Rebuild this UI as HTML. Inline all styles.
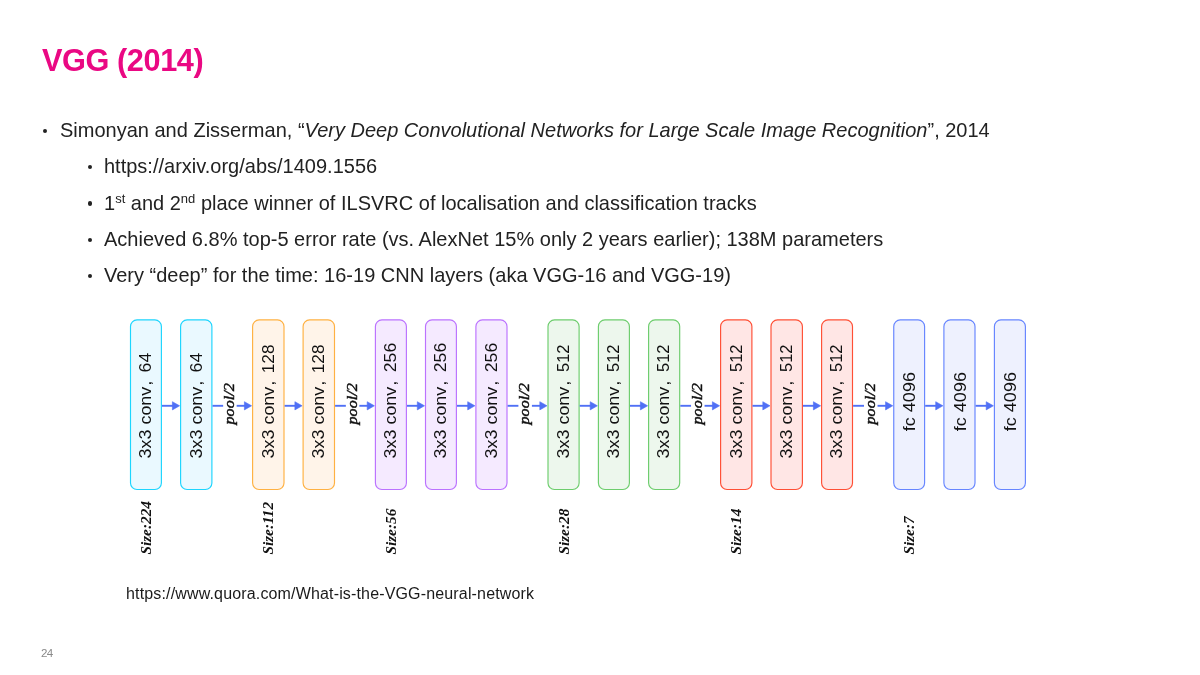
<!DOCTYPE html>
<html><head><meta charset="utf-8">
<style>
html,body{margin:0;padding:0;background:#fff;}
body{width:1200px;height:675px;position:relative;overflow:hidden;font-family:"Liberation Sans",sans-serif;color:#222;}
.t{position:absolute;white-space:nowrap;will-change:transform;}
#title{left:42px;top:40.5px;font-size:30.7px;letter-spacing:-0.42px;font-weight:bold;color:#ea0883;line-height:40px;}
.l1{font-size:20px;line-height:24px;transform:scaleY(1.045);transform-origin:0 18.93px;}
.b{position:absolute;width:4.3px;height:4.3px;border-radius:50%;background:#222;}
sup{font-size:65%;line-height:0;vertical-align:0;position:relative;top:-0.52em;}
#src{left:126px;top:584.7px;font-size:16px;letter-spacing:0.155px;color:#1a1a1a;}
#pn{left:40.5px;top:645.5px;font-size:11.6px;letter-spacing:-0.6px;color:#8a8a8a;}
svg{position:absolute;left:0;top:0;will-change:transform;}
.bt{font-family:"Liberation Sans",sans-serif;font-size:17px;fill:#111;}
.pt{font-family:"Liberation Serif",serif;font-size:15px;font-style:italic;fill:#111;stroke:#111;stroke-width:0.45px;}
.st{font-family:"Liberation Serif",serif;font-size:15.3px;font-style:italic;font-weight:bold;fill:#111;}
</style></head><body>
<div id="title" class="t">VGG (2014)</div>
<div class="b" style="left:42.85px;top:129.05px"></div>
<div class="t l1" style="left:60px;top:118px">Simonyan and Zisserman, “<i>Very Deep Convolutional Networks for Large Scale Image Recognition</i>”, 2014</div>
<div class="b" style="left:87.85px;top:164.85px"></div>
<div class="t l1" style="left:104px;top:154px">https://arxiv.org/abs/1409.1556</div>
<div class="b" style="left:87.85px;top:201.35px"></div>
<div class="t l1" style="left:104px;top:191px">1<sup>st</sup> and 2<sup>nd</sup> place winner of ILSVRC of localisation and classification tracks</div>
<div class="b" style="left:87.85px;top:237.85px"></div>
<div class="t l1" style="left:104px;top:227px">Achieved 6.8% top-5 error rate (vs. AlexNet 15% only 2 years earlier); 138M parameters</div>
<div class="b" style="left:87.85px;top:274.05px"></div>
<div class="t l1" style="left:104px;top:263px">Very “deep” for the time: 16-19 CNN layers (aka VGG-16 and VGG-19)</div>
<svg width="1200" height="675" viewBox="0 0 1200 675">
<rect x="130.50" y="319.90" width="30.90" height="169.60" rx="6.5" ry="6.5" fill="#eaf9ff" stroke="#1dd5fe" stroke-width="1.15"/>
<text transform="translate(151.25,458.38) rotate(-90)" class="bt" textLength="71.64" lengthAdjust="spacingAndGlyphs">3x3 conv</text>
<text transform="translate(151.25,385.60) rotate(-90)" class="bt">,</text>
<text transform="translate(151.25,372.40) rotate(-90)" class="bt" textLength="19.72" lengthAdjust="spacingAndGlyphs">64</text>
<rect x="180.60" y="319.90" width="31.30" height="169.60" rx="6.5" ry="6.5" fill="#eaf9ff" stroke="#1dd5fe" stroke-width="1.15"/>
<text transform="translate(201.55,458.38) rotate(-90)" class="bt" textLength="71.64" lengthAdjust="spacingAndGlyphs">3x3 conv</text>
<text transform="translate(201.55,385.60) rotate(-90)" class="bt">,</text>
<text transform="translate(201.55,372.40) rotate(-90)" class="bt" textLength="19.72" lengthAdjust="spacingAndGlyphs">64</text>
<rect x="252.60" y="319.90" width="31.40" height="169.60" rx="6.5" ry="6.5" fill="#fff4e9" stroke="#ffb142" stroke-width="1.15"/>
<text transform="translate(273.60,458.38) rotate(-90)" class="bt" textLength="71.64" lengthAdjust="spacingAndGlyphs">3x3 conv</text>
<text transform="translate(273.60,385.60) rotate(-90)" class="bt">,</text>
<text transform="translate(273.60,373.21) rotate(-90)" class="bt" textLength="28.76" lengthAdjust="spacingAndGlyphs">128</text>
<rect x="303.10" y="319.90" width="31.40" height="169.60" rx="6.5" ry="6.5" fill="#fff4e9" stroke="#ffb142" stroke-width="1.15"/>
<text transform="translate(324.10,458.38) rotate(-90)" class="bt" textLength="71.64" lengthAdjust="spacingAndGlyphs">3x3 conv</text>
<text transform="translate(324.10,385.60) rotate(-90)" class="bt">,</text>
<text transform="translate(324.10,373.21) rotate(-90)" class="bt" textLength="28.76" lengthAdjust="spacingAndGlyphs">128</text>
<rect x="375.40" y="319.90" width="31.00" height="169.60" rx="6.5" ry="6.5" fill="#f5eaff" stroke="#bb72ff" stroke-width="1.15"/>
<text transform="translate(396.20,458.38) rotate(-90)" class="bt" textLength="71.64" lengthAdjust="spacingAndGlyphs">3x3 conv</text>
<text transform="translate(396.20,385.60) rotate(-90)" class="bt">,</text>
<text transform="translate(396.20,372.18) rotate(-90)" class="bt" textLength="29.36" lengthAdjust="spacingAndGlyphs">256</text>
<rect x="425.50" y="319.90" width="30.90" height="169.60" rx="6.5" ry="6.5" fill="#f5eaff" stroke="#bb72ff" stroke-width="1.15"/>
<text transform="translate(446.25,458.38) rotate(-90)" class="bt" textLength="71.64" lengthAdjust="spacingAndGlyphs">3x3 conv</text>
<text transform="translate(446.25,385.60) rotate(-90)" class="bt">,</text>
<text transform="translate(446.25,372.18) rotate(-90)" class="bt" textLength="29.36" lengthAdjust="spacingAndGlyphs">256</text>
<rect x="475.90" y="319.90" width="31.10" height="169.60" rx="6.5" ry="6.5" fill="#f5eaff" stroke="#bb72ff" stroke-width="1.15"/>
<text transform="translate(496.75,458.38) rotate(-90)" class="bt" textLength="71.64" lengthAdjust="spacingAndGlyphs">3x3 conv</text>
<text transform="translate(496.75,385.60) rotate(-90)" class="bt">,</text>
<text transform="translate(496.75,372.18) rotate(-90)" class="bt" textLength="29.36" lengthAdjust="spacingAndGlyphs">256</text>
<rect x="548.00" y="319.90" width="31.10" height="169.60" rx="6.5" ry="6.5" fill="#edf7ed" stroke="#6dcd6d" stroke-width="1.15"/>
<text transform="translate(568.85,458.38) rotate(-90)" class="bt" textLength="71.64" lengthAdjust="spacingAndGlyphs">3x3 conv</text>
<text transform="translate(568.85,385.60) rotate(-90)" class="bt">,</text>
<text transform="translate(568.85,371.96) rotate(-90)" class="bt" textLength="27.38" lengthAdjust="spacingAndGlyphs">512</text>
<rect x="598.40" y="319.90" width="31.00" height="169.60" rx="6.5" ry="6.5" fill="#edf7ed" stroke="#6dcd6d" stroke-width="1.15"/>
<text transform="translate(619.20,458.38) rotate(-90)" class="bt" textLength="71.64" lengthAdjust="spacingAndGlyphs">3x3 conv</text>
<text transform="translate(619.20,385.60) rotate(-90)" class="bt">,</text>
<text transform="translate(619.20,371.96) rotate(-90)" class="bt" textLength="27.38" lengthAdjust="spacingAndGlyphs">512</text>
<rect x="648.60" y="319.90" width="31.10" height="169.60" rx="6.5" ry="6.5" fill="#edf7ed" stroke="#6dcd6d" stroke-width="1.15"/>
<text transform="translate(669.45,458.38) rotate(-90)" class="bt" textLength="71.64" lengthAdjust="spacingAndGlyphs">3x3 conv</text>
<text transform="translate(669.45,385.60) rotate(-90)" class="bt">,</text>
<text transform="translate(669.45,371.96) rotate(-90)" class="bt" textLength="27.38" lengthAdjust="spacingAndGlyphs">512</text>
<rect x="720.60" y="319.90" width="31.30" height="169.60" rx="6.5" ry="6.5" fill="#ffe6e5" stroke="#ff4f35" stroke-width="1.15"/>
<text transform="translate(741.55,458.38) rotate(-90)" class="bt" textLength="71.64" lengthAdjust="spacingAndGlyphs">3x3 conv</text>
<text transform="translate(741.55,385.60) rotate(-90)" class="bt">,</text>
<text transform="translate(741.55,371.96) rotate(-90)" class="bt" textLength="27.38" lengthAdjust="spacingAndGlyphs">512</text>
<rect x="771.00" y="319.90" width="31.40" height="169.60" rx="6.5" ry="6.5" fill="#ffe6e5" stroke="#ff4f35" stroke-width="1.15"/>
<text transform="translate(792.00,458.38) rotate(-90)" class="bt" textLength="71.64" lengthAdjust="spacingAndGlyphs">3x3 conv</text>
<text transform="translate(792.00,385.60) rotate(-90)" class="bt">,</text>
<text transform="translate(792.00,371.96) rotate(-90)" class="bt" textLength="27.38" lengthAdjust="spacingAndGlyphs">512</text>
<rect x="821.60" y="319.90" width="30.90" height="169.60" rx="6.5" ry="6.5" fill="#ffe6e5" stroke="#ff4f35" stroke-width="1.15"/>
<text transform="translate(842.35,458.38) rotate(-90)" class="bt" textLength="71.64" lengthAdjust="spacingAndGlyphs">3x3 conv</text>
<text transform="translate(842.35,385.60) rotate(-90)" class="bt">,</text>
<text transform="translate(842.35,371.96) rotate(-90)" class="bt" textLength="27.38" lengthAdjust="spacingAndGlyphs">512</text>
<rect x="893.75" y="319.90" width="30.85" height="169.60" rx="6.5" ry="6.5" fill="#eef1fe" stroke="#6685ff" stroke-width="1.15"/>
<text transform="translate(915.47,431.15) rotate(-90)" class="bt" textLength="59.05" lengthAdjust="spacingAndGlyphs">fc 4096</text>
<rect x="943.90" y="319.90" width="31.10" height="169.60" rx="6.5" ry="6.5" fill="#eef1fe" stroke="#6685ff" stroke-width="1.15"/>
<text transform="translate(965.75,431.15) rotate(-90)" class="bt" textLength="59.05" lengthAdjust="spacingAndGlyphs">fc 4096</text>
<rect x="994.40" y="319.90" width="31.00" height="169.60" rx="6.5" ry="6.5" fill="#eef1fe" stroke="#6685ff" stroke-width="1.15"/>
<text transform="translate(1016.20,431.15) rotate(-90)" class="bt" textLength="59.05" lengthAdjust="spacingAndGlyphs">fc 4096</text>
<line x1="162.00" y1="405.8" x2="173.60" y2="405.8" stroke="#5070f5" stroke-width="1.9"/>
<path d="M179.60,405.80 L172.40,401.70 L172.40,409.90 Z" fill="#5070f5" stroke="#5070f5" stroke-width="0.6" stroke-linejoin="round"/>
<line x1="212.50" y1="405.8" x2="223.15" y2="405.8" stroke="#5070f5" stroke-width="1.9"/>
<line x1="236.65" y1="405.8" x2="245.60" y2="405.8" stroke="#5070f5" stroke-width="1.9"/>
<path d="M251.60,405.80 L244.40,401.70 L244.40,409.90 Z" fill="#5070f5" stroke="#5070f5" stroke-width="0.6" stroke-linejoin="round"/>
<text transform="translate(234.15,424.50) rotate(-90)" class="pt" textLength="41.4" lengthAdjust="spacingAndGlyphs">pool/2</text>
<line x1="284.60" y1="405.8" x2="296.10" y2="405.8" stroke="#5070f5" stroke-width="1.9"/>
<path d="M302.10,405.80 L294.90,401.70 L294.90,409.90 Z" fill="#5070f5" stroke="#5070f5" stroke-width="0.6" stroke-linejoin="round"/>
<line x1="335.10" y1="405.8" x2="345.85" y2="405.8" stroke="#5070f5" stroke-width="1.9"/>
<line x1="359.35" y1="405.8" x2="368.40" y2="405.8" stroke="#5070f5" stroke-width="1.9"/>
<path d="M374.40,405.80 L367.20,401.70 L367.20,409.90 Z" fill="#5070f5" stroke="#5070f5" stroke-width="0.6" stroke-linejoin="round"/>
<text transform="translate(356.85,424.50) rotate(-90)" class="pt" textLength="41.4" lengthAdjust="spacingAndGlyphs">pool/2</text>
<line x1="407.00" y1="405.8" x2="418.50" y2="405.8" stroke="#5070f5" stroke-width="1.9"/>
<path d="M424.50,405.80 L417.30,401.70 L417.30,409.90 Z" fill="#5070f5" stroke="#5070f5" stroke-width="0.6" stroke-linejoin="round"/>
<line x1="457.00" y1="405.8" x2="468.90" y2="405.8" stroke="#5070f5" stroke-width="1.9"/>
<path d="M474.90,405.80 L467.70,401.70 L467.70,409.90 Z" fill="#5070f5" stroke="#5070f5" stroke-width="0.6" stroke-linejoin="round"/>
<line x1="507.60" y1="405.8" x2="518.40" y2="405.8" stroke="#5070f5" stroke-width="1.9"/>
<line x1="531.90" y1="405.8" x2="541.00" y2="405.8" stroke="#5070f5" stroke-width="1.9"/>
<path d="M547.00,405.80 L539.80,401.70 L539.80,409.90 Z" fill="#5070f5" stroke="#5070f5" stroke-width="0.6" stroke-linejoin="round"/>
<text transform="translate(529.40,424.50) rotate(-90)" class="pt" textLength="41.4" lengthAdjust="spacingAndGlyphs">pool/2</text>
<line x1="579.70" y1="405.8" x2="591.40" y2="405.8" stroke="#5070f5" stroke-width="1.9"/>
<path d="M597.40,405.80 L590.20,401.70 L590.20,409.90 Z" fill="#5070f5" stroke="#5070f5" stroke-width="0.6" stroke-linejoin="round"/>
<line x1="630.00" y1="405.8" x2="641.60" y2="405.8" stroke="#5070f5" stroke-width="1.9"/>
<path d="M647.60,405.80 L640.40,401.70 L640.40,409.90 Z" fill="#5070f5" stroke="#5070f5" stroke-width="0.6" stroke-linejoin="round"/>
<line x1="680.30" y1="405.8" x2="691.05" y2="405.8" stroke="#5070f5" stroke-width="1.9"/>
<line x1="704.55" y1="405.8" x2="713.60" y2="405.8" stroke="#5070f5" stroke-width="1.9"/>
<path d="M719.60,405.80 L712.40,401.70 L712.40,409.90 Z" fill="#5070f5" stroke="#5070f5" stroke-width="0.6" stroke-linejoin="round"/>
<text transform="translate(702.05,424.50) rotate(-90)" class="pt" textLength="41.4" lengthAdjust="spacingAndGlyphs">pool/2</text>
<line x1="752.50" y1="405.8" x2="764.00" y2="405.8" stroke="#5070f5" stroke-width="1.9"/>
<path d="M770.00,405.80 L762.80,401.70 L762.80,409.90 Z" fill="#5070f5" stroke="#5070f5" stroke-width="0.6" stroke-linejoin="round"/>
<line x1="803.00" y1="405.8" x2="814.60" y2="405.8" stroke="#5070f5" stroke-width="1.9"/>
<path d="M820.60,405.80 L813.40,401.70 L813.40,409.90 Z" fill="#5070f5" stroke="#5070f5" stroke-width="0.6" stroke-linejoin="round"/>
<line x1="853.10" y1="405.8" x2="864.02" y2="405.8" stroke="#5070f5" stroke-width="1.9"/>
<line x1="877.52" y1="405.8" x2="886.75" y2="405.8" stroke="#5070f5" stroke-width="1.9"/>
<path d="M892.75,405.80 L885.55,401.70 L885.55,409.90 Z" fill="#5070f5" stroke="#5070f5" stroke-width="0.6" stroke-linejoin="round"/>
<text transform="translate(875.02,424.50) rotate(-90)" class="pt" textLength="41.4" lengthAdjust="spacingAndGlyphs">pool/2</text>
<line x1="925.20" y1="405.8" x2="936.90" y2="405.8" stroke="#5070f5" stroke-width="1.9"/>
<path d="M942.90,405.80 L935.70,401.70 L935.70,409.90 Z" fill="#5070f5" stroke="#5070f5" stroke-width="0.6" stroke-linejoin="round"/>
<line x1="975.60" y1="405.8" x2="987.40" y2="405.8" stroke="#5070f5" stroke-width="1.9"/>
<path d="M993.40,405.80 L986.20,401.70 L986.20,409.90 Z" fill="#5070f5" stroke="#5070f5" stroke-width="0.6" stroke-linejoin="round"/>
<text transform="translate(150.95,554.6) rotate(-90)" class="st">Size:224</text>
<text transform="translate(273.30,554.6) rotate(-90)" class="st">Size:112</text>
<text transform="translate(395.90,554.6) rotate(-90)" class="st">Size:56</text>
<text transform="translate(568.55,554.6) rotate(-90)" class="st">Size:28</text>
<text transform="translate(741.25,554.6) rotate(-90)" class="st">Size:14</text>
<text transform="translate(914.17,554.6) rotate(-90)" class="st">Size:7</text>
</svg>
<div id="src" class="t">https://www.quora.com/What-is-the-VGG-neural-network</div>
<div id="pn" class="t">24</div>
</body></html>
